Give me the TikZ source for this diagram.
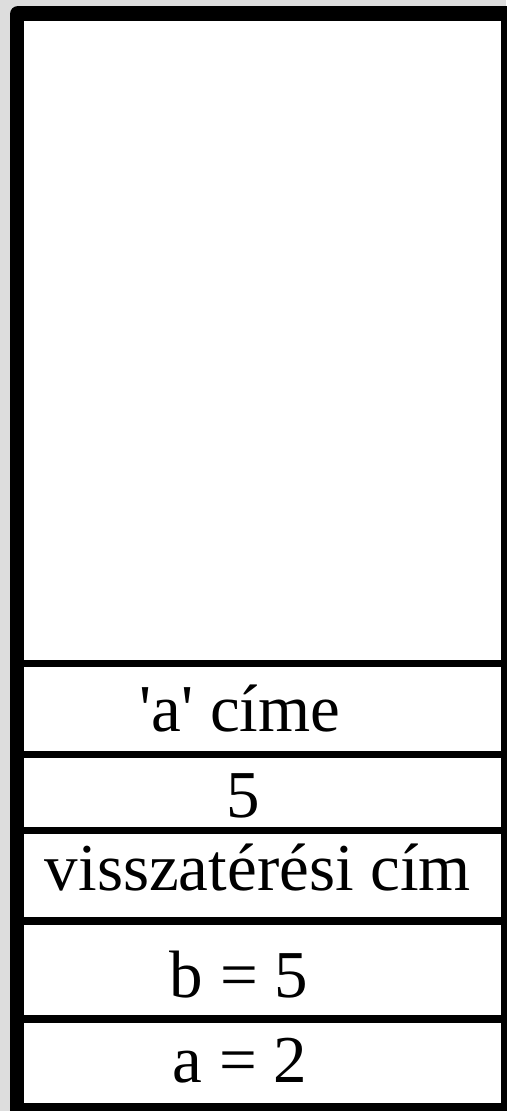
\documentclass[tikz,border=0pt]{standalone}
\usepackage{fontspec}
\newfontfamily\tnr{Liberation Serif}
\definecolor{bggray}{HTML}{DDDDDD}
\tikzset{
  cell/.style={anchor=base, inner sep=0pt, font=\tnr\fontsize{67}{80}\selectfont},
  divider/.style={fill=black}
}
\begin{document}
\begin{tikzpicture}[x=1pt,y=-1pt]
\useasboundingbox (0,0) rectangle (506,1111);
\fill[bggray] (0,0) rectangle (506,1111);
\fill[black, rounded corners=8pt] (10,6) rectangle (530,1135);
\fill[white] (24,21) rectangle (501,1103);
\fill[divider] (24,660) rectangle (501,667.3);
\fill[divider] (24,751) rectangle (501,758);
\fill[divider] (24,827) rectangle (501,834);
\fill[divider] (24,917.3) rectangle (501,924.7);
\fill[divider] (24,1015) rectangle (501,1022.7);
\node[cell] (acime) at (240,731) {'a' címe};
\node[cell] (five) at (243,817) {5};
\node[cell] (visszat) at (258,890) {visszatérési cím};
\node[cell] (bfive) at (239,997) {b = 5};
\node[cell] (atwo) at (240,1082) {a = 2};
\end{tikzpicture}
\end{document}
